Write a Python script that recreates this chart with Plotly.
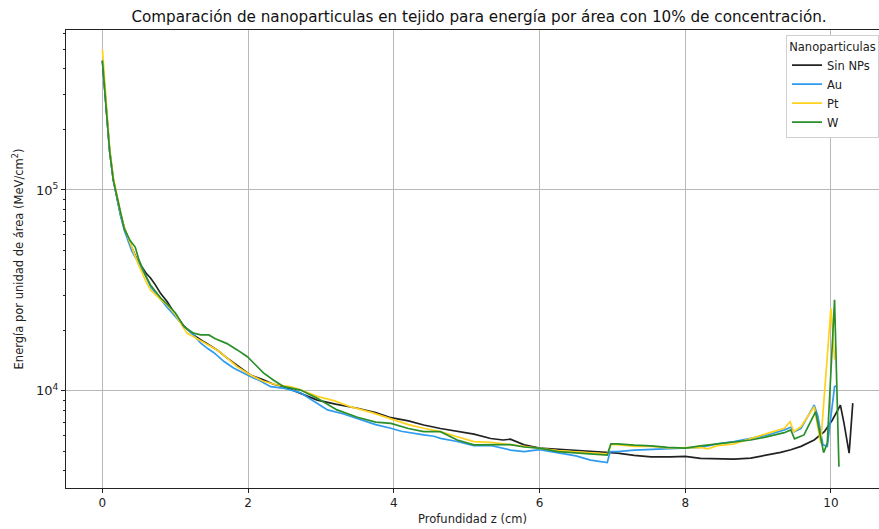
import plotly.graph_objects as go

# ---- data ----
x_sin = [0, 0.03, 0.06, 0.1, 0.15, 0.2, 0.25, 0.3, 0.35, 0.4, 0.5, 0.55, 0.6, 0.66, 0.72, 0.8, 0.89, 0.95, 1.0,
         1.12, 1.25, 1.4, 1.575, 1.7, 1.8, 1.9, 2.03, 2.2, 2.35, 2.49, 2.7, 2.95, 3.2, 3.5, 3.75, 3.96, 4.2, 4.41,
         4.64, 4.87, 5.1, 5.33, 5.5, 5.6, 5.79, 6.0, 6.25, 6.5, 6.7, 6.93, 7.07, 7.3, 7.53, 7.8, 8.0, 8.21, 8.44,
         8.67, 8.9, 9.13, 9.31, 9.45, 9.59, 9.77, 9.91, 10.02, 10.13, 10.18, 10.25, 10.3]
y_sin = [4.4e5, 3.3e5, 2.5e5, 1.55e5, 1.12e5, 9.0e4, 7.5e4, 6.5e4, 5.8e4, 5.2e4, 4.3e4, 4.1e4, 3.85e4, 3.65e4,
         3.4e4, 3.05e4, 2.78e4, 2.55e4, 2.4e4, 2.1e4, 1.9e4, 1.75e4, 1.6e4, 1.47e4, 1.38e4, 1.29e4, 1.2e4, 1.14e4,
         1.08e4, 1.05e4, 9.8e3, 9.0e3, 8.6e3, 8.2e3, 7.8e3, 7.36e3, 7.1e3, 6.77e3, 6.5e3, 6.27e3, 6.1e3, 5.8e3,
         5.7e3, 5.75e3, 5.39e3, 5.2e3, 5.12e3, 5.05e3, 4.99e3, 4.93e3, 4.9e3, 4.78e3, 4.7e3, 4.7e3, 4.72e3, 4.62e3,
         4.6e3, 4.58e3, 4.63e3, 4.8e3, 4.95e3, 5.1e3, 5.3e3, 5.7e3, 6.27e3, 7.17e3, 8.5e3, 6.9e3, 4.9e3, 8.7e3]

x_au = [0, 0.03, 0.06, 0.1, 0.15, 0.2, 0.25, 0.3, 0.4, 0.5, 0.6, 0.66, 0.8, 0.89, 1.0, 1.12, 1.25, 1.35, 1.45,
        1.53, 1.67, 1.8, 2.03, 2.15, 2.31, 2.5, 2.72, 2.9, 3.09, 3.3, 3.5, 3.75, 3.96, 4.1, 4.41, 4.55, 4.64, 4.87,
        5.1, 5.33, 5.6, 5.79, 6.0, 6.25, 6.5, 6.7, 6.93, 6.97, 7.07, 7.3, 7.53, 7.76, 8.0, 8.21, 8.44, 8.67, 8.9,
        9.13, 9.36, 9.45, 9.5, 9.59, 9.77, 9.82, 9.89, 9.95, 10.05, 10.08]
y_au = [4.4e5, 3.2e5, 2.5e5, 1.55e5, 1.12e5, 9.0e4, 7.4e4, 6.3e4, 5.0e4, 4.3e4, 3.7e4, 3.3e4, 2.85e4, 2.6e4,
        2.35e4, 2.09e4, 1.9e4, 1.73e4, 1.62e4, 1.55e4, 1.4e4, 1.3e4, 1.18e4, 1.13e4, 1.05e4, 1.03e4, 9.8e3, 8.9e3,
        8.05e3, 7.7e3, 7.3e3, 6.8e3, 6.52e3, 6.3e3, 6.04e3, 5.95e3, 5.81e3, 5.6e3, 5.35e3, 5.35e3, 5.08e3, 4.99e3,
        5.1e3, 4.92e3, 4.75e3, 4.53e3, 4.4e3, 4.99e3, 4.99e3, 5.08e3, 5.12e3, 5.19e3, 5.24e3, 5.24e3, 5.45e3,
        5.6e3, 5.81e3, 6.04e3, 6.4e3, 6.6e3, 6.27e3, 6.52e3, 8.5e3, 7.5e3, 5.39e3, 5.3e3, 1.05e4, 1.06e4]

x_pt = [0, 0.03, 0.06, 0.1, 0.15, 0.2, 0.25, 0.3, 0.4, 0.5, 0.6, 0.66, 0.8, 0.89, 1.0, 1.16, 1.3, 1.45, 1.575,
        1.7, 1.85, 2.03, 2.2, 2.4, 2.58, 2.7, 2.95, 3.2, 3.4, 3.7, 3.96, 4.2, 4.41, 4.64, 4.87, 5.1, 5.33, 5.6,
        5.79, 6.0, 6.25, 6.5, 6.7, 6.93, 6.98, 7.07, 7.3, 7.53, 7.76, 8.0, 8.21, 8.31, 8.45, 8.67, 8.9, 9.13, 9.36,
        9.44, 9.49, 9.59, 9.77, 9.86, 10.0, 10.05]
y_pt = [5.0e5, 3.5e5, 2.6e5, 1.6e5, 1.15e5, 9.3e4, 7.7e4, 6.5e4, 5.2e4, 4.2e4, 3.5e4, 3.18e4, 2.85e4, 2.68e4,
        2.4e4, 1.94e4, 1.82e4, 1.7e4, 1.6e4, 1.47e4, 1.32e4, 1.2e4, 1.12e4, 1.07e4, 1.05e4, 1.02e4, 9.4e3, 8.9e3,
        8.35e3, 7.8e3, 7.23e3, 6.8e3, 6.52e3, 6.27e3, 5.92e3, 5.6e3, 5.55e3, 5.4e3, 5.26e3, 5.19e3, 5.05e3, 4.98e3,
        4.93e3, 4.87e3, 5.4e3, 5.4e3, 5.3e3, 5.3e3, 5.2e3, 5.24e3, 5.24e3, 5.15e3, 5.35e3, 5.45e3, 5.81e3, 6.15e3,
        6.52e3, 7.03e3, 6.27e3, 6.65e3, 8.35e3, 5.49e3, 2.58e4, 1.43e4]

x_w = [0, 0.03, 0.06, 0.1, 0.15, 0.2, 0.25, 0.3, 0.38, 0.45, 0.5, 0.6, 0.66, 0.8, 0.89, 1.0, 1.12, 1.25, 1.35,
       1.46, 1.55, 1.71, 1.85, 1.99, 2.1, 2.21, 2.35, 2.49, 2.72, 2.95, 3.22, 3.5, 3.75, 3.96, 4.2, 4.41, 4.64,
       4.87, 5.1, 5.33, 5.6, 5.79, 6.0, 6.25, 6.5, 6.7, 6.93, 6.98, 7.07, 7.3, 7.53, 7.76, 8.0, 8.21, 8.44, 8.67,
       8.9, 9.13, 9.36, 9.45, 9.5, 9.63, 9.79, 9.9, 9.95, 10.05, 10.11]
y_w = [4.4e5, 3.2e5, 2.5e5, 1.55e5, 1.12e5, 9.2e4, 7.5e4, 6.4e4, 5.6e4, 5.2e4, 4.5e4, 3.7e4, 3.37e4, 2.9e4,
       2.7e4, 2.45e4, 2.09e4, 1.94e4, 1.9e4, 1.9e4, 1.82e4, 1.72e4, 1.6e4, 1.48e4, 1.35e4, 1.23e4, 1.13e4, 1.05e4,
       1.01e4, 9.2e3, 8.05e3, 7.4e3, 7.0e3, 6.9e3, 6.5e3, 6.27e3, 6.27e3, 5.7e3, 5.39e3, 5.4e3, 5.4e3, 5.26e3,
       5.19e3, 4.99e3, 4.92e3, 4.85e3, 4.8e3, 5.45e3, 5.45e3, 5.37e3, 5.33e3, 5.24e3, 5.19e3, 5.33e3, 5.45e3,
       5.53e3, 5.7e3, 5.92e3, 6.2e3, 6.4e3, 5.78e3, 6.04e3, 7.88e3, 4.93e3, 5.49e3, 2.84e4, 4.2e3]

series_names = ["Sin NPs", "Au", "Pt", "W"]
series_colors = ["#222222", "#2E9BEF", "#FFD21F", "#2A8F2A"]

x_ticks = [0, 2, 4, 6, 8, 10]
y_ticks = [1e4, 1e5]
y_ticktext = ["10<sup>4</sup>", "10<sup>5</sup>"]
y_minor = [m * 10 ** e for e in (3, 4, 5) for m in range(2, 10)]

fig = go.Figure()
for name, xs, ys, col in zip(series_names, [x_sin, x_au, x_pt, x_w], [y_sin, y_au, y_pt, y_w], series_colors):
    fig.add_trace(go.Scatter(x=xs, y=ys, mode="lines", name=name, line=dict(color=col, width=1.7)))

fnt = "DejaVu Sans, sans-serif"
fig.update_layout(
    width=879, height=529,
    margin=dict(l=66, r=0, t=30, b=41),
    paper_bgcolor="white", plot_bgcolor="white",
    font=dict(family=fnt, size=11, color="#222"),
    title=dict(text="Comparación de nanoparticulas en tejido para energía por área con 10% de concentración.",
               x=0.545, xanchor="center", y=0.968, yanchor="middle", font=dict(size=15.2, color="#111")),
    legend=dict(title=dict(text="Nanoparticulas", side="top center", font=dict(size=11.5)),
                x=1.0, xanchor="right", y=0.99, yanchor="top", bgcolor="white",
                bordercolor="#d0d0d0", borderwidth=1, font=dict(size=11.5), itemwidth=30,
                tracegroupgap=0),
)
fig.update_xaxes(range=[-0.5, 10.66], tickvals=x_ticks, showgrid=True, gridcolor="#b8b8b8", gridwidth=1,
                 showline=True, linecolor="#222", linewidth=1, mirror=True, ticks="outside", ticklen=4,
                 tickcolor="#222", zeroline=False, tickfont=dict(size=12),
                 title=dict(text="Profundidad z (cm)", font=dict(size=11.5), standoff=5))
fig.update_yaxes(type="log", range=[3.517, 5.796], tickvals=y_ticks, ticktext=y_ticktext, showgrid=True,
                 gridcolor="#b8b8b8", gridwidth=1, showline=True, linecolor="#222", linewidth=1, mirror=False,
                 ticks="outside", ticklen=4, tickcolor="#222", zeroline=False, tickfont=dict(size=13),
                 minor=dict(tickvals=y_minor, ticks="outside", ticklen=2, tickcolor="#222", showgrid=False),
                 title=dict(text="Energía por unidad de área (MeV/cm<sup>2</sup>)", font=dict(size=11.5),
                            standoff=10))

fig.write_html("out.html")
